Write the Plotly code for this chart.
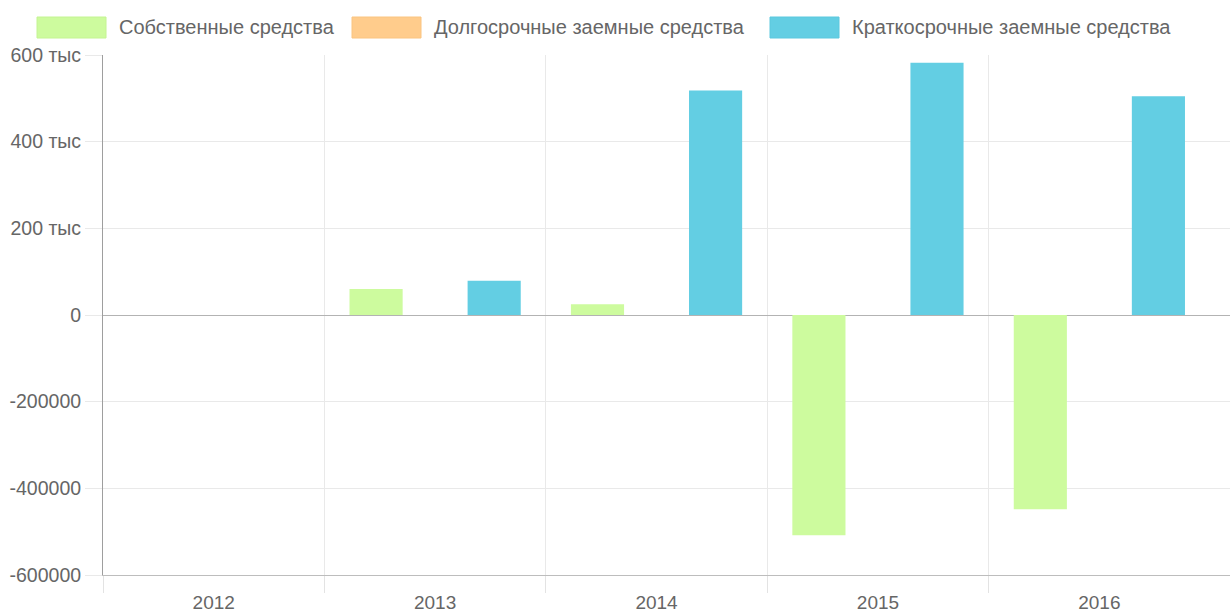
import plotly.graph_objects as go

years = ["2012", "2013", "2014", "2015", "2016"]
series_names = ["Собственные средства", "Долгосрочные заемные средства", "Краткосрочные заемные средства"]
own_funds = [0, 60000, 25000, -508000, -448000]
long_term = [0, 0, 0, 0, 0]
short_term = [0, 79000, 518000, 582000, 505000]
y_tickvals = [-600000, -400000, -200000, 0, 200000, 400000, 600000]
y_ticktext = ["-600000", "-400000", "-200000", "0", "200 тыс", "400 тыс", "600 тыс"]

fills = ["rgb(205,251,158)", "rgb(255,204,140)", "rgb(99,206,227)"]
borders = ["rgb(196,244,146)", "rgb(250,196,128)", "rgb(92,200,222)"]

W, H = 1230, 613
ML, MR, MT, MB = 103, 0, 55, 38
PW, PH = W - ML - MR, H - MT - MB

def px(x):
    return (x - ML) / PW

def py(y):
    return (H - MB - y) / PH

xs = list(range(len(years)))
fig = go.Figure()
for name, vals, f in zip(series_names, [own_funds, long_term, short_term], fills):
    fig.add_trace(go.Bar(x=xs, y=vals, name=name, marker=dict(color=f, line=dict(width=0)),
                         showlegend=False))

font = "Liberation Sans, Arial, sans-serif"
fig.update_layout(
    width=W, height=H,
    margin=dict(l=ML, r=MR, t=MT, b=MB, autoexpand=False),
    paper_bgcolor="white", plot_bgcolor="white",
    barmode="group", bargap=0.2, bargroupgap=0.1,
    font=dict(family=font, size=19, color="#666666"),
)
fig.update_xaxes(
    automargin=False,
    range=[-0.5, 4.59],
    tickmode="array", tickvals=xs, ticktext=years,
    showgrid=False, ticks="outside", ticklen=10, tickcolor="rgba(0,0,0,0)",
    tickfont=dict(size=19, color="#666666"),
    showline=True, linecolor="#bdbdbd", linewidth=1,
    minor=dict(tickvals=[-0.5, 0.5, 1.5, 2.5, 3.5], showgrid=True, gridcolor="#e9e9e9", gridwidth=1,
               ticks="outside", ticklen=17, tickcolor="#e3e3e3"),
    zeroline=False,
)
fig.update_yaxes(
    automargin=False,
    range=[-600000, 600000],
    tickmode="array", tickvals=y_tickvals, ticktext=y_ticktext,
    showgrid=True, gridcolor="#e9e9e9", gridwidth=1,
    ticks="outside", ticklen=17, tickcolor="#e9e9e9",
    tickfont=dict(size=19.5, color="#666666"),
    showline=True, linecolor="#9e9e9e", linewidth=1,
    zeroline=True, zerolinecolor="#b3b3b3", zerolinewidth=1,
)

box_starts = [37, 352, 770]
box_w, box_top, box_bot = 69, 17, 38
for name, x0, f, b in zip(series_names, box_starts, fills, borders):
    fig.add_shape(type="rect", xref="paper", yref="paper",
                  x0=px(x0), x1=px(x0 + box_w), y0=py(box_bot), y1=py(box_top),
                  fillcolor=f, line=dict(color=b, width=1))
    fig.add_annotation(xref="paper", yref="paper", x=px(x0 + box_w + 11), y=py((box_top + box_bot) / 2),
                       text=name, showarrow=False, xanchor="left", yanchor="middle",
                       font=dict(family=font, size=20, color="#666666"))

fig.write_html("out.html", config={"displayModeBar": False},
               post_script="document.body.style.margin='0';document.body.style.overflow='hidden';")
